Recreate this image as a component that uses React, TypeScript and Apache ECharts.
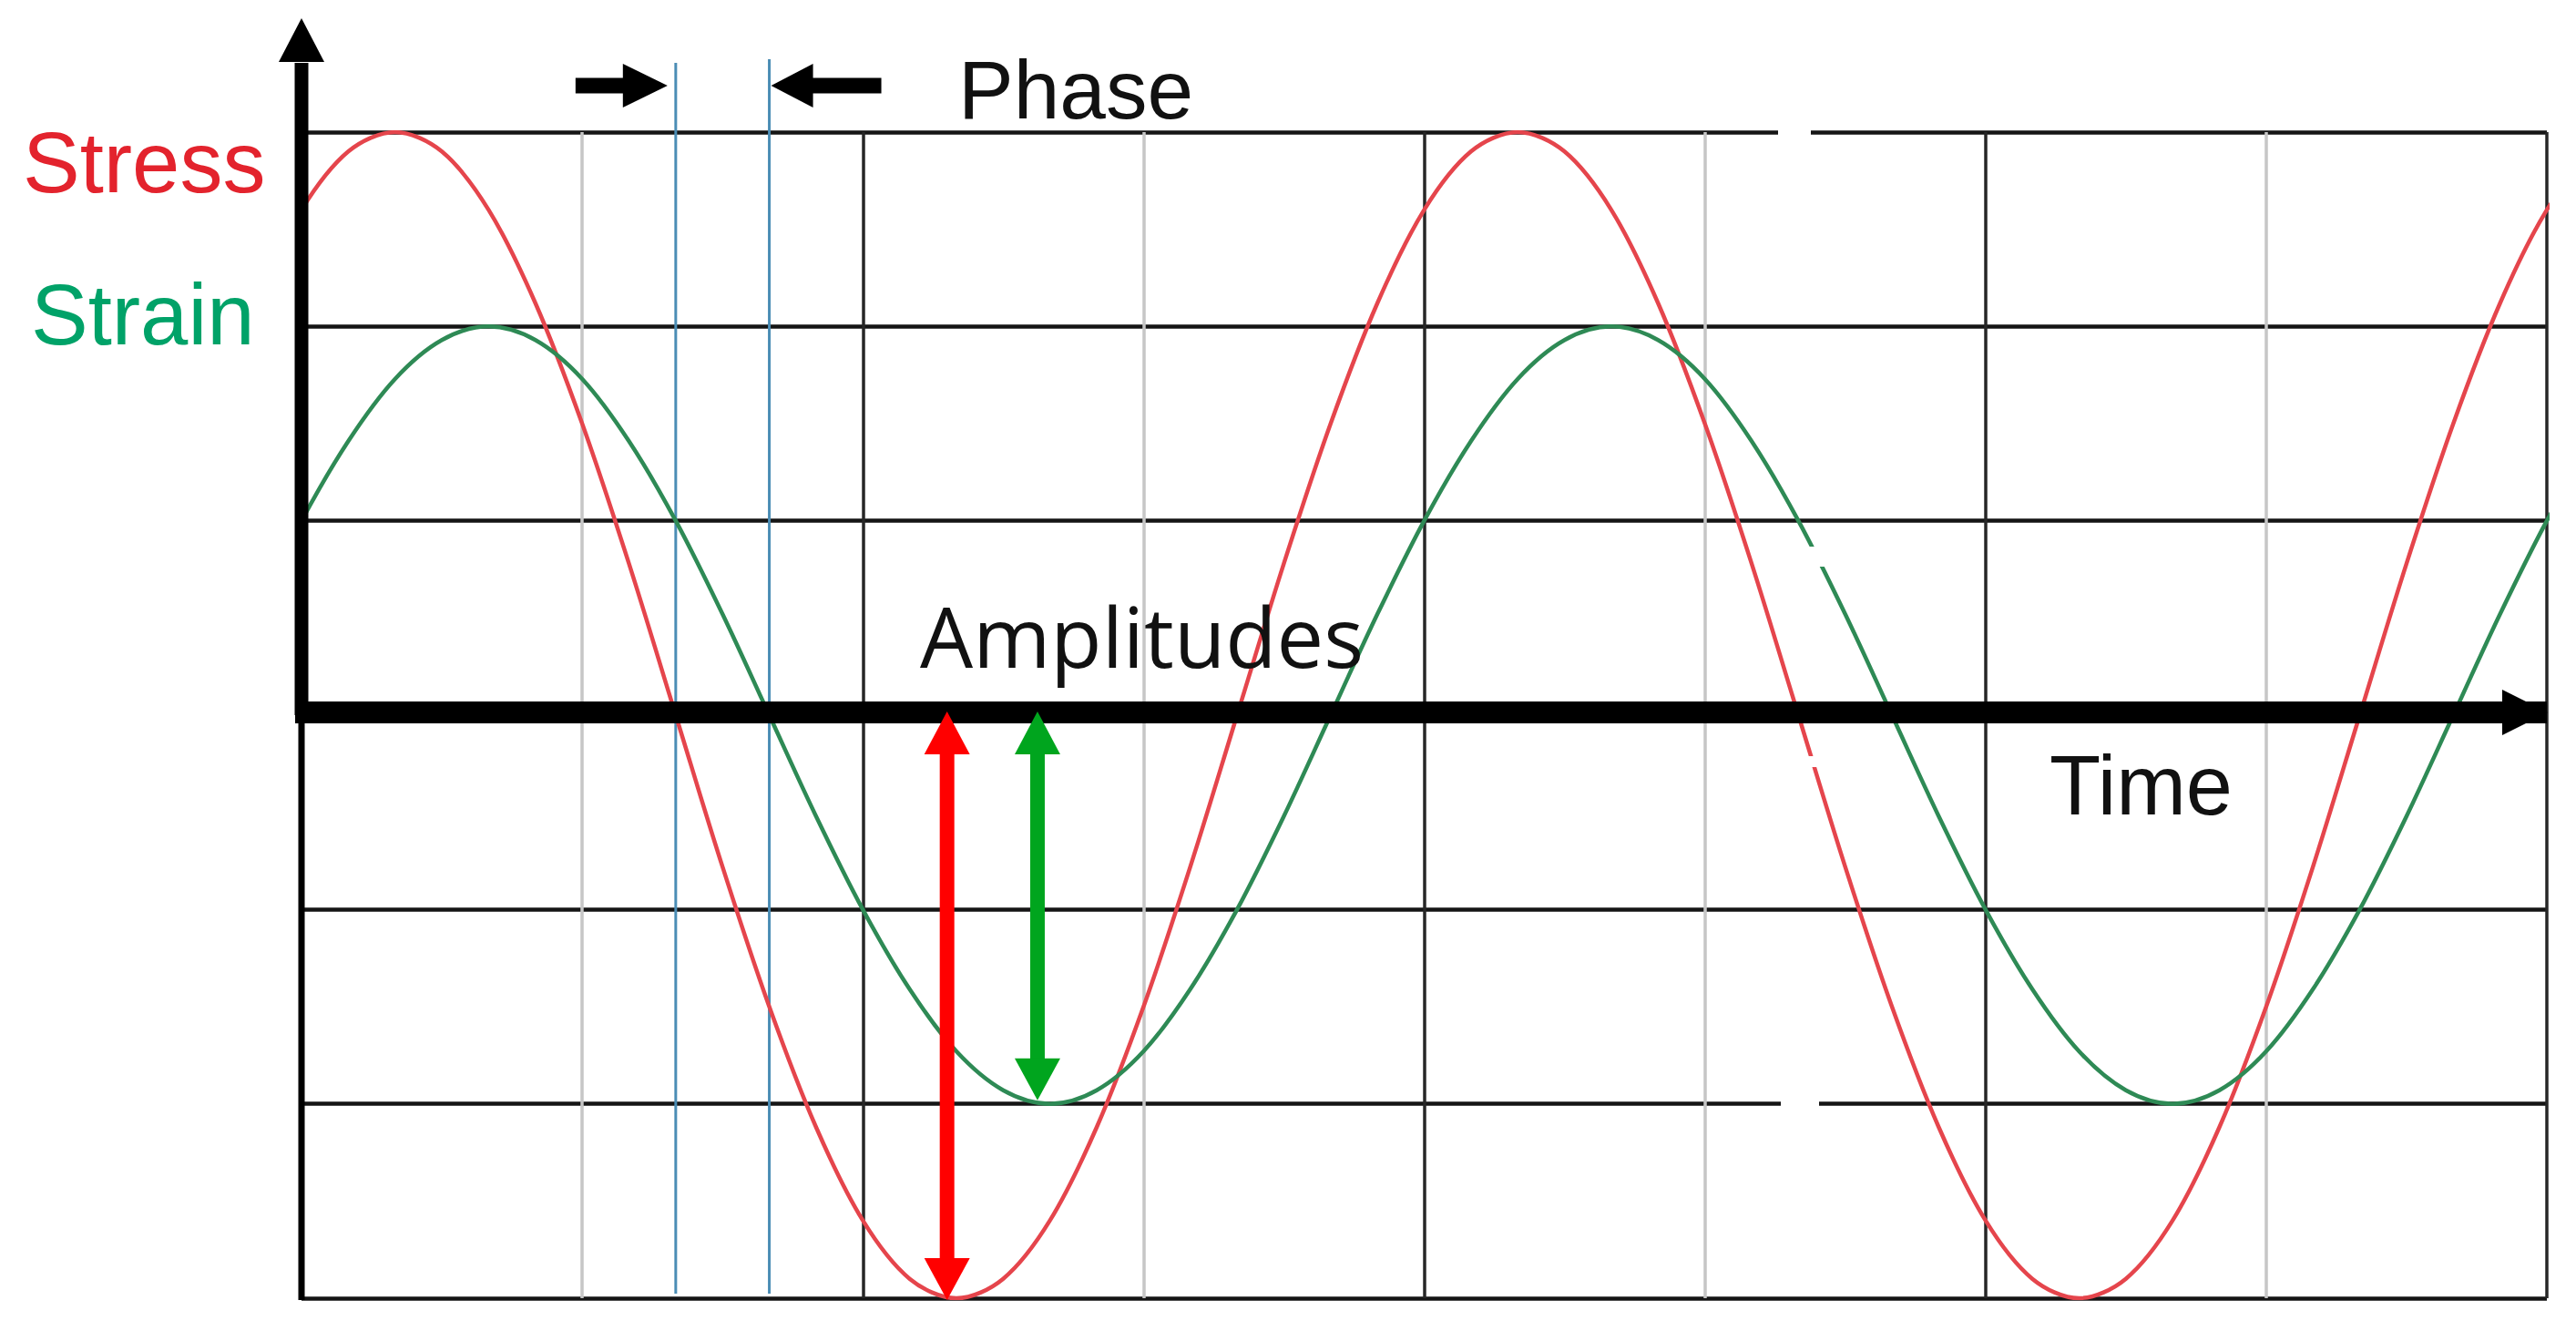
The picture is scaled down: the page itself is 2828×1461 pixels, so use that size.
import React, { useEffect, useRef } from "react";
import * as echarts from "echarts";

// Time expressed as phase angle (degrees); one grid cell = 90 degrees.
// One extra sample on each side (clipped by the grid) keeps the curve ends smooth.
const TIME_DEG = [
  -15, 0, 15, 30, 45, 60, 75, 90, 105, 120, 135, 150, 165, 180, 195, 210, 225,
  240, 255, 270, 285, 300, 315, 330, 345, 360, 375, 390, 405, 420, 435, 450,
  465, 480, 495, 510, 525, 540, 555, 570, 585, 600, 615, 630, 645, 660, 675,
  690, 705, 720, 735,
];

// Stress (red) values, amplitude 3 grid units
const STRESS = [
  2.12,
  2.6, 2.9, 3, 2.9, 2.6, 2.12, 1.5, 0.78, 0, -0.78, -1.5, -2.12, -2.6, -2.9, -3,
  -2.9, -2.6, -2.12, -1.5, -0.78, 0, 0.78, 1.5, 2.12,
  2.6, 2.9, 3, 2.9, 2.6, 2.12, 1.5, 0.78, 0, -0.78, -1.5, -2.12, -2.6, -2.9, -3,
  -2.9, -2.6, -2.12, -1.5, -0.78, 0, 0.78, 1.5, 2.12,
  2.6, 2.9,
];

// Strain (green) values, amplitude 2 grid units
const STRAIN = [
  0.52,
  1, 1.41, 1.73, 1.93, 2, 1.93, 1.73, 1.41, 1, 0.52, 0, -0.52, -1, -1.41,
  -1.73, -1.93, -2, -1.93, -1.73, -1.41, -1, -0.52, 0, 0.52,
  1, 1.41, 1.73, 1.93, 2, 1.93, 1.73, 1.41, 1, 0.52, 0, -0.52, -1, -1.41,
  -1.73, -1.93, -2, -1.93, -1.73, -1.41, -1, -0.52, 0, 0.52,
  1, 1.41,
];

// Zero crossings of stress and strain (the phase lag markers)
const PHASE_LINES = [120, 150];
// Positions of the amplitude arrows
const AMP_ARROW_X = [207, 236];

const X_MIN = 0;
const X_MAX = 720;
const X_STEP = 90;
const Y_MIN = -3;
const Y_MAX = 3;
const Y_STEP = 1;

const ARIAL = "'Liberation Sans', Arial, sans-serif";
const SEGOE = "'Open Sans', 'Noto Sans', sans-serif";

export default function App() {
  const ref = useRef<HTMLDivElement>(null);

  useEffect(() => {
    const chart = echarts.init(ref.current as HTMLDivElement, null, {
      renderer: "svg",
    });

    const stressData = TIME_DEG.map((t, i) => [t, STRESS[i]]);
    const strainData = TIME_DEG.map((t, i) => [t, STRAIN[i]]);

    chart.setOption({
      animation: false,
      backgroundColor: "#ffffff",
      grid: { left: 331, right: 32, top: 145, bottom: 36 },
      xAxis: {
        type: "value",
        min: X_MIN,
        max: X_MAX,
        interval: X_STEP,
        axisLine: { show: false },
        axisTick: { show: false },
        axisLabel: { show: false },
        splitLine: {
          show: true,
          lineStyle: { color: ["#262626", "#c6c6c6"], width: 3.5 },
        },
      },
      yAxis: {
        type: "value",
        min: Y_MIN,
        max: Y_MAX,
        interval: Y_STEP,
        axisLine: { show: false },
        axisTick: { show: false },
        axisLabel: { show: false },
        splitLine: {
          show: true,
          lineStyle: { color: "#151515", width: 4.5 },
        },
      },
      series: [
        {
          name: "Stress",
          type: "line",
          data: stressData,
          smooth: 0.33,
          symbol: "none",
          clip: true,
          z: 4,
          lineStyle: { color: "#e5454c", width: 4.5 },
        },
        {
          name: "Strain",
          type: "line",
          data: strainData,
          smooth: 0.33,
          symbol: "none",
          clip: true,
          z: 4,
          lineStyle: { color: "#2e8a55", width: 4.5 },
        },
      ],
    });

    const px = (x: number, y: number) =>
      chart.convertToPixel({ gridIndex: 0 }, [x, y]) as number[];

    const [x0, y0] = px(X_MIN, 0);
    const xEnd = px(X_MAX, 0)[0];
    const yTop = px(X_MIN, Y_MAX)[1];
    const yBot = px(X_MIN, Y_MIN)[1];
    const ya = y0 - 3;

    const stressAmp = -Math.min(...STRESS);
    const strainAmp = -Math.min(...STRAIN);

    const els: any[] = [];

    // left border below the time axis
    els.push({
      type: "line",
      z: 9,
      shape: { x1: x0, y1: y0, x2: x0, y2: yBot + 2 },
      style: { stroke: "#000", lineWidth: 7 },
    });
    // vertical axis with arrow
    els.push({
      type: "line",
      z: 10,
      shape: { x1: x0, y1: y0, x2: x0, y2: yTop - 76 },
      style: { stroke: "#000", lineWidth: 15 },
    });
    els.push({
      type: "polygon",
      z: 10,
      shape: {
        points: [
          [x0 - 25, yTop - 77],
          [x0, yTop - 125],
          [x0 + 25, yTop - 77],
        ],
      },
      style: { fill: "#000" },
    });
    // time axis with arrow
    els.push({
      type: "line",
      z: 10,
      shape: { x1: x0 - 7, y1: ya, x2: xEnd, y2: ya },
      style: { stroke: "#000", lineWidth: 24 },
    });
    els.push({
      type: "polygon",
      z: 10,
      shape: {
        points: [
          [xEnd - 49, ya - 25],
          [xEnd + 1, ya],
          [xEnd - 49, ya + 25],
        ],
      },
      style: { fill: "#000" },
    });

    // phase marker lines
    const bx = PHASE_LINES.map((t) => px(t, 0)[0]);
    bx.forEach((x, i) => {
      els.push({
        type: "line",
        z: 3,
        shape: { x1: x, y1: yTop - (i === 0 ? 76 : 80), x2: x, y2: yBot - 5 },
        style: { stroke: "#4b8db5", lineWidth: 3 },
      });
    });
    const ay = yTop - 51;
    // right-pointing arrow
    els.push({
      type: "line",
      z: 12,
      shape: { x1: bx[0] - 110, y1: ay, x2: bx[0] - 56, y2: ay },
      style: { stroke: "#000", lineWidth: 17 },
    });
    els.push({
      type: "polygon",
      z: 12,
      shape: {
        points: [
          [bx[0] - 58, ay - 24],
          [bx[0] - 9, ay],
          [bx[0] - 58, ay + 24],
        ],
      },
      style: { fill: "#000" },
    });
    // left-pointing arrow
    els.push({
      type: "polygon",
      z: 12,
      shape: {
        points: [
          [bx[1] + 2, ay],
          [bx[1] + 48, ay - 24],
          [bx[1] + 48, ay + 24],
        ],
      },
      style: { fill: "#000" },
    });
    els.push({
      type: "line",
      z: 12,
      shape: { x1: bx[1] + 46, y1: ay, x2: bx[1] + 123, y2: ay },
      style: { stroke: "#000", lineWidth: 17 },
    });

    // amplitude arrows
    const ampArrow = (t: number, amp: number, color: string, botAdj: number) => {
      const x = px(t, 0)[0];
      const tipTop = ya - 1;
      const tipBot = px(t, -amp)[1] + botAdj;
      els.push({
        type: "line",
        z: 12,
        shape: { x1: x, y1: tipTop + 40, x2: x, y2: tipBot - 40 },
        style: { stroke: color, lineWidth: 16 },
      });
      els.push({
        type: "polygon",
        z: 12,
        shape: {
          points: [
            [x, tipTop],
            [x - 25, tipTop + 47],
            [x + 25, tipTop + 47],
          ],
        },
        style: { fill: color },
      });
      els.push({
        type: "polygon",
        z: 12,
        shape: {
          points: [
            [x, tipBot],
            [x - 25, tipBot - 46],
            [x + 25, tipBot - 46],
          ],
        },
        style: { fill: color },
      });
    };
    ampArrow(AMP_ARROW_X[0], stressAmp, "#ff0000", 2);
    ampArrow(AMP_ARROW_X[1], strainAmp, "#00a51e", -4);

    // small white gaps present in the source picture
    const gaps = [
      [1952, 136, 36, 18],
      [1955, 1203, 42, 16],
      [1984, 600, 20, 22],
      [1984, 830, 14, 12],
    ];
    gaps.forEach(([x, y, w, h]) => {
      els.push({
        type: "rect",
        z: 15,
        shape: { x, y, width: w, height: h },
        style: { fill: "#ffffff" },
      });
    });

    // texts
    const txt = (
      text: string,
      x: number,
      y: number,
      size: number,
      color: string,
      family: string
    ) => ({
      type: "text",
      z: 20,
      x,
      y,
      style: {
        text,
        fill: color,
        font: `${size}px ${family}`,
        align: "left",
        verticalAlign: "middle",
      },
    });
    els.push(txt("Stress", 25, 178, 94, "#e3232d", ARIAL));
    els.push(txt("Strain", 34, 345, 94, "#00a268", ARIAL));
    els.push(txt("Phase", 1052, 98, 91, "#111111", ARIAL));
    els.push(txt("Amplitudes", 1010, 697, 92, "#111111", SEGOE));
    els.push(txt("Time", 2250, 862, 92, "#111111", ARIAL));

    chart.setOption({ graphic: els });

    return () => {
      chart.dispose();
    };
  }, []);

  return (
    <div
      ref={ref}
      style={{
        position: "fixed",
        left: 0,
        top: 0,
        width: 2828,
        height: 1461,
        background: "#ffffff",
      }}
    />
  );
}
